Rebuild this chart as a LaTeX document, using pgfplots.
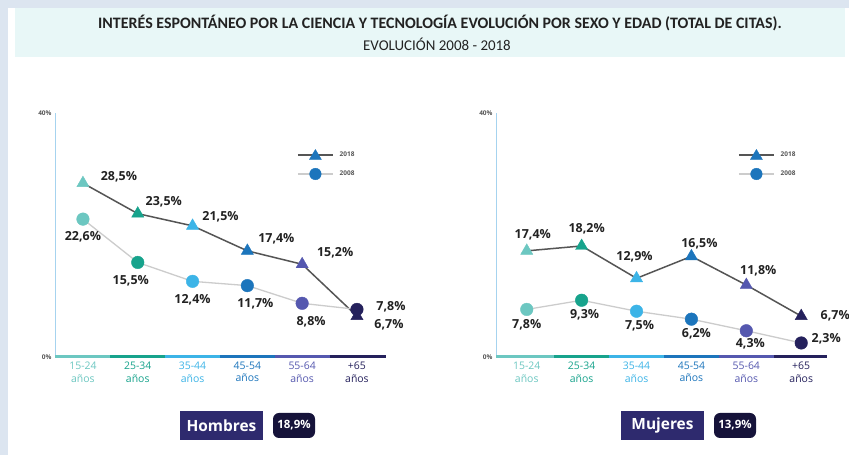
\documentclass[border=0pt]{standalone}
\usepackage{pgfplots}
\pgfplotsset{compat=1.18}
\usepackage{fontspec}
\setmainfont{Open Sans}
\newfontfamily\titlefont{Carlito}
\definecolor{c1}{HTML}{6CC7C1}
\definecolor{c2}{HTML}{17A38C}
\definecolor{c3}{HTML}{3CB4E7}
\definecolor{c4}{HTML}{1C75BC}
\definecolor{c5}{HTML}{5558AF}
\definecolor{c6}{HTML}{25215C}
\definecolor{darkline}{HTML}{555555}
\definecolor{lightline}{HTML}{CCCCCC}
\definecolor{legblue}{HTML}{1C75BC}
\definecolor{yaxis}{HTML}{A6D3EF}
\definecolor{titlebg}{HTML}{E8F7F7}
\definecolor{outerbg}{HTML}{DCE5F0}
\definecolor{boxnavy}{HTML}{2E2A6E}
\definecolor{badge}{HTML}{16133A}
\definecolor{lbl}{HTML}{222222}
\tikzset{lab/.style={font=\bfseries\fontsize{12.5}{14}\selectfont, text=lbl}}
\pgfplotsset{
  catclasses/.style={scatter/classes={a={c1},b={c2},c={c3},d={c4},e={c5},f={c6}}},
  panel/.style={
    scale only axis, width=331bp, height=244bp,
    ymin=0, ymax=40,
    axis x line*=bottom, axis y line*=left,
    x axis line style={draw=none},
    y axis line style={draw=yaxis, line width=1pt, -},
    xtick={0,...,5}, major tick length=0,
    xticklabels={{\textcolor{c1}{15-24}\\\textcolor{c1}{años}},
                 {\textcolor{c2}{25-34}\\\textcolor{c2}{años}},
                 {\textcolor{c3}{35-44}\\\textcolor{c3}{años}},
                 {\textcolor{c4}{45-54}\\\textcolor{c4}{años}},
                 {\textcolor{c5}{55-64}\\\textcolor{c5}{años}},
                 {\textcolor{c6}{+65}\\\textcolor{c6}{años}}},
    xticklabel style={align=center, font=\fontsize{10.5}{13}\selectfont, yshift=-1bp},
    ytick={0,40}, yticklabels={0\%,40\%},
    yticklabel style={font=\bfseries\fontsize{6.5}{7}\selectfont, text=darkline},
    clip=false,
    legend style={at={(0.731,0.852)}, anchor=north west, draw=none, fill=none,
      font=\bfseries\fontsize{6.5}{7}\selectfont, text=darkline,
      inner sep=0pt, row sep=8bp,
      nodes={inner sep=0pt, minimum height=10bp, anchor=west}},
    legend cell align=left,
    /tikz/every odd column/.append style={column sep=6bp},
  },
}
\newcommand{\axissegments}[2]{%
  \draw[c1, line width=3bp] (axis cs:#1,0) -- (axis cs:0.5,0);
  \draw[c2, line width=3bp] (axis cs:0.5,0) -- (axis cs:1.5,0);
  \draw[c3, line width=3bp] (axis cs:1.5,0) -- (axis cs:2.5,0);
  \draw[c4, line width=3bp] (axis cs:2.5,0) -- (axis cs:3.5,0);
  \draw[c5, line width=3bp] (axis cs:3.5,0) -- (axis cs:4.5,0);
  \draw[c6, line width=3bp] (axis cs:4.5,0) -- (axis cs:#2,0);
}
\newcommand{\legendpair}{%
  \addlegendimage{legend image code/.code={
    \path[draw=none, fill=none] (0bp,-5bp) rectangle (35bp,5bp);
    \draw[darkline, line width=1.5bp] (0bp,0bp) -- (35bp,0bp);
    \fill[legblue] (17.5bp,5.5bp) -- (11.5bp,-4.5bp) -- (23.5bp,-4.5bp) -- cycle;}}
  \addlegendentry{2018}
  \addlegendimage{legend image code/.code={
    \path[draw=none, fill=none] (0bp,-5bp) rectangle (35bp,5bp);
    \draw[lightline, line width=1.3bp] (0bp,0bp) -- (35bp,0bp);
    \fill[legblue] (17.5bp,0bp) circle (5.8bp);}}
  \addlegendentry{2008}
}
\begin{document}
\begin{tikzpicture}[x=1bp,y=1bp]
\useasboundingbox (0,0) rectangle (849,455);
\fill[outerbg] (0,0) rectangle (849,455);
\fill[white] (8,0) rectangle (849,447);
\fill[titlebg] (15,398) rectangle (845,447);
\node[font=\titlefont\bfseries\fontsize{16}{18}\selectfont, text=lbl] at (440,432)
  {INTERÉS ESPONTÁNEO POR LA CIENCIA Y TECNOLOGÍA EVOLUCIÓN POR SEXO Y EDAD (TOTAL DE CITAS).};
\node[font=\titlefont\fontsize{15}{18}\selectfont, text=lbl] at (437,411)
  {EVOLUCIÓN 2008 - 2018};

% ---------------- Hombres ----------------
\begin{axis}[panel, at={(55bp,98bp)}, anchor=south west, xmin=-0.51, xmax=5.53]
\axissegments{-0.51}{5.53}
\addplot[darkline, line width=1.5bp, no marks, forget plot] coordinates {(0,28.5)(1,23.5)(2,21.5)(3,17.4)(4,15.2)(5,6.7)};
\addplot[lightline, line width=1.3bp, no marks, forget plot] coordinates {(0,22.6)(1,15.5)(2,12.4)(3,11.7)(4,8.8)(5,7.8)};
\addplot[scatter, only marks, mark=*, mark size=6.3bp, catclasses, point meta=explicit symbolic, forget plot]
  table[meta=c, row sep=\\] {x y c\\ 0 22.6 a\\ 1 15.5 b\\ 2 12.4 c\\ 3 11.7 d\\ 4 8.8 e\\ 5 7.8 f\\};
\addplot[scatter, only marks, mark=triangle*, mark size=7bp, catclasses, point meta=explicit symbolic, forget plot]
  table[meta=c, row sep=\\] {x y c\\ 0 28.5 a\\ 1 23.5 b\\ 2 21.5 c\\ 3 17.4 d\\ 4 15.2 e\\ 5 6.7 f\\};
\legendpair
\node[lab, xshift=36bp, yshift=6bp] at (axis cs:0,28.5) {28,5\%};
\node[lab, xshift=26bp, yshift=12bp] at (axis cs:1,23.5) {23,5\%};
\node[lab, xshift=28bp, yshift=9bp] at (axis cs:2,21.5) {21,5\%};
\node[lab, xshift=29bp, yshift=12bp] at (axis cs:3,17.4) {17,4\%};
\node[lab, xshift=33bp, yshift=11bp] at (axis cs:4,15.2) {15,2\%};
\node[lab, xshift=32bp, yshift=-9bp] at (axis cs:5,6.7) {6,7\%};
\node[lab, xshift=0bp, yshift=-18bp] at (axis cs:0,22.6) {22,6\%};
\node[lab, xshift=-7bp, yshift=-18bp] at (axis cs:1,15.5) {15,5\%};
\node[lab, xshift=0bp, yshift=-18bp] at (axis cs:2,12.4) {12,4\%};
\node[lab, xshift=8bp, yshift=-18bp] at (axis cs:3,11.7) {11,7\%};
\node[lab, xshift=9bp, yshift=-18bp] at (axis cs:4,8.8) {8,8\%};
\node[lab, xshift=34bp, yshift=3bp] at (axis cs:5,7.8) {7,8\%};
\end{axis}

% ---------------- Mujeres ----------------
\begin{axis}[panel, at={(496bp,98bp)}, anchor=south west, xmin=-0.56, xmax=5.47]
\axissegments{-0.56}{5.47}
\addplot[darkline, line width=1.5bp, no marks, forget plot] coordinates {(0,17.4)(1,18.2)(2,12.9)(3,16.5)(4,11.8)(5,6.7)};
\addplot[lightline, line width=1.3bp, no marks, forget plot] coordinates {(0,7.8)(1,9.3)(2,7.5)(3,6.2)(4,4.3)(5,2.3)};
\addplot[scatter, only marks, mark=*, mark size=6.3bp, catclasses, point meta=explicit symbolic, forget plot]
  table[meta=c, row sep=\\] {x y c\\ 0 7.8 a\\ 1 9.3 b\\ 2 7.5 c\\ 3 6.2 d\\ 4 4.3 e\\ 5 2.3 f\\};
\addplot[scatter, only marks, mark=triangle*, mark size=7bp, catclasses, point meta=explicit symbolic, forget plot]
  table[meta=c, row sep=\\] {x y c\\ 0 17.4 a\\ 1 18.2 b\\ 2 12.9 c\\ 3 16.5 d\\ 4 11.8 e\\ 5 6.7 f\\};
\legendpair
\node[lab, xshift=6bp, yshift=16bp] at (axis cs:0,17.4) {17,4\%};
\node[lab, xshift=5bp, yshift=17bp] at (axis cs:1,18.2) {18,2\%};
\node[lab, xshift=-2bp, yshift=22bp] at (axis cs:2,12.9) {12,9\%};
\node[lab, xshift=8bp, yshift=13bp] at (axis cs:3,16.5) {16,5\%};
\node[lab, xshift=12bp, yshift=14bp] at (axis cs:4,11.8) {11,8\%};
\node[lab, xshift=34bp, yshift=0bp] at (axis cs:5,6.7) {6,7\%};
\node[lab, xshift=0bp, yshift=-15bp] at (axis cs:0,7.8) {7,8\%};
\node[lab, xshift=3bp, yshift=-15bp] at (axis cs:1,9.3) {9,3\%};
\node[lab, xshift=3bp, yshift=-15bp] at (axis cs:2,7.5) {7,5\%};
\node[lab, xshift=5bp, yshift=-15bp] at (axis cs:3,6.2) {6,2\%};
\node[lab, xshift=4bp, yshift=-13bp] at (axis cs:4,4.3) {4,3\%};
\node[lab, xshift=25bp, yshift=4bp] at (axis cs:5,2.3) {2,3\%};
\end{axis}

% ---------------- bottom tags ----------------
\fill[boxnavy] (180,15) rectangle (263,44);
\node[font=\bfseries\fontsize{15.5}{17}\selectfont, text=white] at (221.5,29.5) {Hombres};
\fill[badge, rounded corners=6bp] (273,17) rectangle (315,42);
\node[font=\bfseries\fontsize{11.5}{12}\selectfont, text=white] at (294,29.5) {18,9\%};
\fill[boxnavy] (621,15) rectangle (704,44);
\node[font=\bfseries\fontsize{15.5}{17}\selectfont, text=white] at (662.5,29.5) {Mujeres};
\fill[badge, rounded corners=6bp] (714,17) rectangle (756,42);
\node[font=\bfseries\fontsize{11.5}{12}\selectfont, text=white] at (735,29.5) {13,9\%};
\end{tikzpicture}
\end{document}
